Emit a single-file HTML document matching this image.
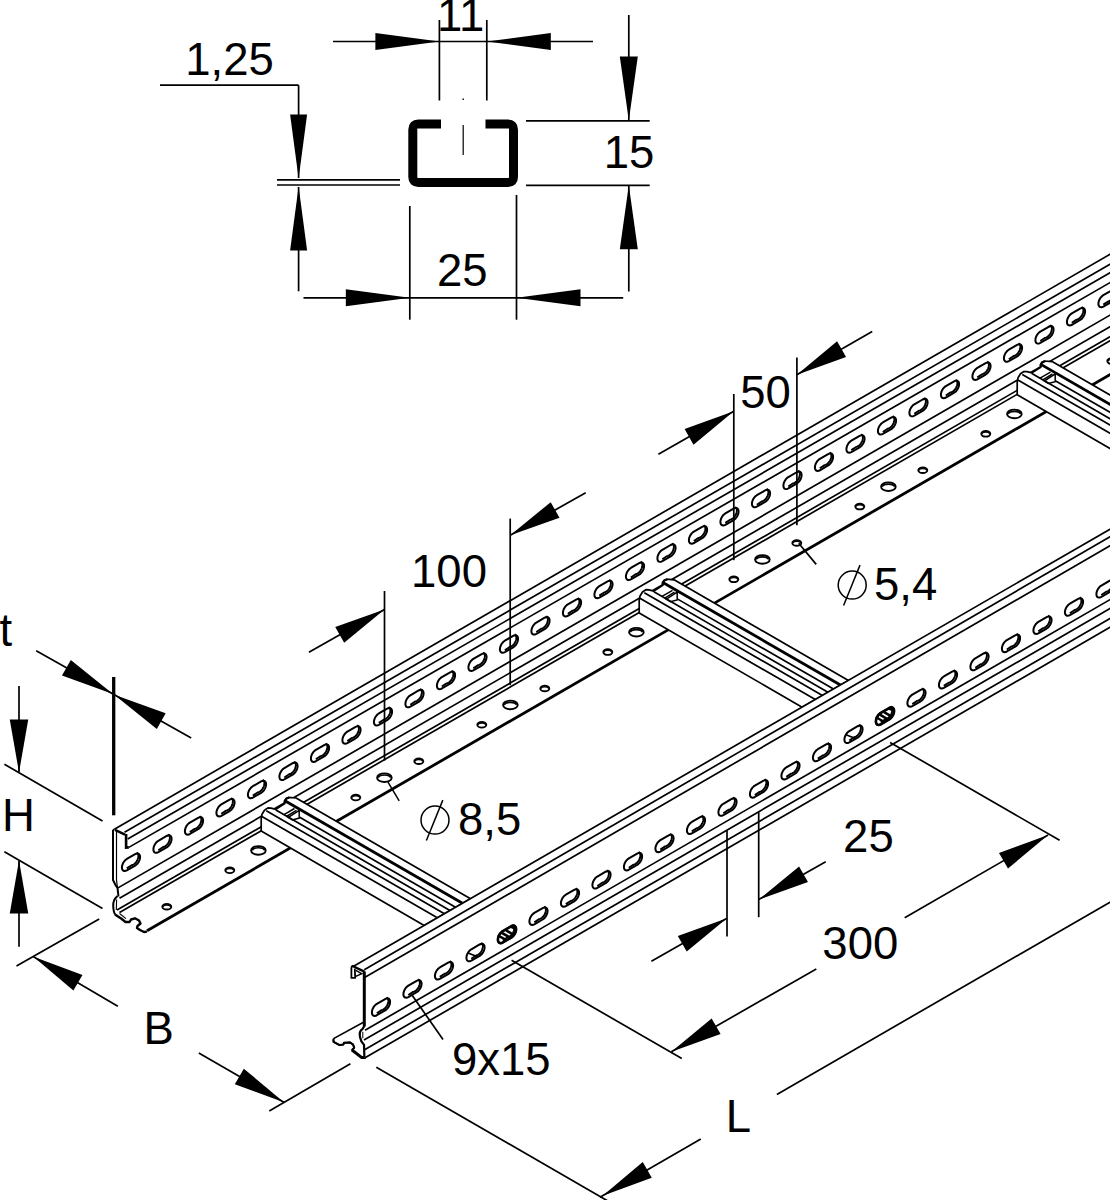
<!DOCTYPE html>
<html><head><meta charset="utf-8"><title>Cable ladder</title>
<style>html,body{margin:0;padding:0;background:#fff}svg{display:block}text{font-family:"Liberation Sans",sans-serif;fill:#000;stroke:none}</style>
</head><body>
<svg width="1110" height="1200" viewBox="0 0 1110 1200" stroke="#000" stroke-linecap="butt" fill="none">
<rect x="0" y="0" width="1110" height="1200" fill="#fff" stroke="none"/>
<line x1="114.4" y1="829.15" x2="1125" y2="245.68" stroke-width="1.7" />
<line x1="124.5" y1="832.33" x2="1125" y2="255.7" stroke-width="1.7" />
<line x1="127.7" y1="838.99" x2="1125" y2="264.09" stroke-width="1.7" />
<line x1="128.8" y1="847.37" x2="1125" y2="274.01" stroke-width="1.7" />
<line x1="118" y1="887.87" x2="1125" y2="306.48" stroke-width="1.7" />
<line x1="119.5" y1="898.21" x2="1125" y2="317.99" stroke-width="1.7" />
<line x1="117" y1="910.05" x2="1125" y2="328.08" stroke-width="1.7" />
<line x1="119.5" y1="912.61" x2="1125" y2="332.08" stroke-width="1.7" />
<line x1="147" y1="930.73" x2="1125" y2="366.08" stroke-width="2.8" />
<path d="M113,830 L113,880 L115.5,885 L117.5,888 L118.5,896.5" fill="none" stroke-width="2.0" />
<path d="M116.5,830.5 L116.5,880 L117.5,888" fill="none" stroke-width="1.2" />
<path d="M113,830.2 L114.4,829.1" fill="none" stroke-width="1.6" />
<path d="M115,829.8 L125,834.6" fill="none" stroke-width="2.4" />
<path d="M126.1,834 L126.1,847.6 L128.8,847.4" fill="none" stroke-width="2.6" />
<path d="M117.5,896 C114,899 113,903 113.2,906 C113.4,910 114,913 115.2,914.5" fill="none" stroke-width="2"/>
<path d="M116.6,899.5 L116.3,910" fill="none" stroke-width="1.1"/>
<path d="M115,914.5 L118,916.5 L121.5,918.8 L125.5,922 L129.5,922 L131,919.5 L135,918.3 L139,920.5 L140.5,923.5 L137.5,926 L137,928 L140,930 L144,932 L147,931.6" fill="none" stroke-width="2.4" stroke-linejoin="round"/>
<path d="M119.5,913.5 L126,918.6" fill="none" stroke-width="1.1" />
<path d="M135.16,865.57 L136.26,864.79 L137.3,863.77 L138.23,862.55 L139.02,861.19 L139.6,859.77 L139.97,858.36 L140.09,857.02 L139.97,855.82 L139.6,854.83 L139.02,854.09 L138.23,853.63 L137.3,853.5 L136.26,853.68 L135.16,854.17 L126.84,858.97 L125.74,859.74 L124.7,860.77 L123.77,861.99 L122.98,863.34 L122.4,864.76 L122.03,866.18 L121.91,867.52 L122.03,868.71 L122.4,869.71 L122.98,870.45 L123.77,870.9 L124.7,871.04 L125.74,870.86 L126.84,870.37 Z" fill="#fff" stroke-width="2.0" stroke-linejoin="round"/>
<path d="M126.81,868.41 L131.64,865.22 L132.6,864.98 L133.59,864.49 L134.58,863.77 L135.52,862.86 L136.38,861.78 L137.12,860.58 L137.71,859.32 L138.12,858.03 L138.35,856.78 L138.38,855.62 L138.21,854.58 L137.84,853.72 L137.3,853.07 L136.6,852.66" fill="none" stroke-width="1.9" stroke-linejoin="round"/>
<path d="M166.66,847.38 L167.76,846.6 L168.8,845.58 L169.73,844.36 L170.52,843.01 L171.1,841.59 L171.47,840.17 L171.59,838.83 L171.47,837.63 L171.1,836.64 L170.52,835.9 L169.73,835.45 L168.8,835.31 L167.76,835.49 L166.66,835.98 L158.34,840.78 L157.24,841.56 L156.2,842.58 L155.27,843.8 L154.48,845.15 L153.9,846.58 L153.53,847.99 L153.41,849.33 L153.53,850.53 L153.9,851.52 L154.48,852.26 L155.27,852.71 L156.2,852.85 L157.24,852.67 L158.34,852.18 Z" fill="#fff" stroke-width="2.0" stroke-linejoin="round"/>
<path d="M158.31,850.22 L163.14,847.03 L164.1,846.79 L165.09,846.3 L166.08,845.59 L167.02,844.67 L167.88,843.59 L168.62,842.4 L169.21,841.13 L169.62,839.84 L169.85,838.59 L169.88,837.43 L169.71,836.4 L169.34,835.54 L168.8,834.89 L168.1,834.47" fill="none" stroke-width="1.9" stroke-linejoin="round"/>
<path d="M198.16,829.19 L199.26,828.42 L200.3,827.39 L201.23,826.17 L202.02,824.82 L202.6,823.4 L202.97,821.98 L203.09,820.64 L202.97,819.45 L202.6,818.45 L202.02,817.71 L201.23,817.26 L200.3,817.12 L199.26,817.3 L198.16,817.79 L189.84,822.59 L188.74,823.37 L187.7,824.4 L186.77,825.61 L185.98,826.97 L185.4,828.39 L185.03,829.8 L184.91,831.14 L185.03,832.34 L185.4,833.33 L185.98,834.08 L186.77,834.53 L187.7,834.67 L188.74,834.49 L189.84,833.99 Z" fill="#fff" stroke-width="2.0" stroke-linejoin="round"/>
<path d="M189.81,832.03 L194.64,828.84 L195.6,828.6 L196.59,828.12 L197.58,827.4 L198.52,826.48 L199.38,825.4 L200.12,824.21 L200.71,822.94 L201.12,821.66 L201.35,820.41 L201.38,819.24 L201.21,818.21 L200.84,817.35 L200.3,816.7 L199.6,816.29" fill="none" stroke-width="1.9" stroke-linejoin="round"/>
<path d="M229.66,811.01 L230.76,810.23 L231.8,809.21 L232.73,807.99 L233.52,806.63 L234.1,805.21 L234.47,803.8 L234.59,802.46 L234.47,801.26 L234.1,800.27 L233.52,799.53 L232.73,799.07 L231.8,798.94 L230.76,799.12 L229.66,799.61 L221.34,804.41 L220.24,805.18 L219.2,806.21 L218.27,807.43 L217.48,808.78 L216.9,810.2 L216.53,811.62 L216.41,812.96 L216.53,814.15 L216.9,815.15 L217.48,815.89 L218.27,816.34 L219.2,816.48 L220.24,816.3 L221.34,815.81 Z" fill="#fff" stroke-width="2.0" stroke-linejoin="round"/>
<path d="M221.31,813.85 L226.14,810.66 L227.1,810.42 L228.09,809.93 L229.08,809.21 L230.02,808.3 L230.88,807.22 L231.62,806.02 L232.21,804.76 L232.62,803.47 L232.85,802.22 L232.88,801.06 L232.71,800.02 L232.34,799.16 L231.8,798.51 L231.1,798.1" fill="none" stroke-width="1.9" stroke-linejoin="round"/>
<path d="M261.16,792.82 L262.26,792.04 L263.3,791.02 L264.23,789.8 L265.02,788.45 L265.6,787.03 L265.97,785.61 L266.09,784.27 L265.97,783.07 L265.6,782.08 L265.02,781.34 L264.23,780.89 L263.3,780.75 L262.26,780.93 L261.16,781.42 L252.84,786.22 L251.74,787 L250.7,788.02 L249.77,789.24 L248.98,790.6 L248.4,792.02 L248.03,793.43 L247.91,794.77 L248.03,795.97 L248.4,796.96 L248.98,797.7 L249.77,798.15 L250.7,798.29 L251.74,798.11 L252.84,797.62 Z" fill="#fff" stroke-width="2.0" stroke-linejoin="round"/>
<path d="M252.81,795.66 L257.64,792.47 L258.6,792.23 L259.59,791.74 L260.58,791.03 L261.52,790.11 L262.38,789.03 L263.12,787.84 L263.71,786.57 L264.12,785.29 L264.35,784.03 L264.38,782.87 L264.21,781.84 L263.84,780.98 L263.3,780.33 L262.6,779.91" fill="none" stroke-width="1.9" stroke-linejoin="round"/>
<path d="M292.66,774.63 L293.76,773.86 L294.8,772.83 L295.73,771.61 L296.52,770.26 L297.1,768.84 L297.47,767.42 L297.59,766.08 L297.47,764.89 L297.1,763.89 L296.52,763.15 L295.73,762.7 L294.8,762.56 L293.76,762.74 L292.66,763.23 L284.34,768.03 L283.24,768.81 L282.2,769.84 L281.27,771.06 L280.48,772.41 L279.9,773.83 L279.53,775.24 L279.41,776.58 L279.53,777.78 L279.9,778.78 L280.48,779.52 L281.27,779.97 L282.2,780.11 L283.24,779.93 L284.34,779.43 Z" fill="#fff" stroke-width="2.0" stroke-linejoin="round"/>
<path d="M284.31,777.47 L289.14,774.28 L290.1,774.04 L291.09,773.56 L292.08,772.84 L293.02,771.92 L293.88,770.85 L294.62,769.65 L295.21,768.38 L295.62,767.1 L295.85,765.85 L295.88,764.68 L295.71,763.65 L295.34,762.79 L294.8,762.14 L294.1,761.73" fill="none" stroke-width="1.9" stroke-linejoin="round"/>
<path d="M324.16,756.45 L325.26,755.67 L326.3,754.65 L327.23,753.43 L328.02,752.07 L328.6,750.65 L328.97,749.24 L329.09,747.9 L328.97,746.7 L328.6,745.71 L328.02,744.97 L327.23,744.51 L326.3,744.38 L325.26,744.56 L324.16,745.05 L315.84,749.85 L314.74,750.63 L313.7,751.65 L312.77,752.87 L311.98,754.22 L311.4,755.64 L311.03,757.06 L310.91,758.4 L311.03,759.59 L311.4,760.59 L311.98,761.33 L312.77,761.78 L313.7,761.92 L314.74,761.74 L315.84,761.25 Z" fill="#fff" stroke-width="2.0" stroke-linejoin="round"/>
<path d="M315.81,759.29 L320.64,756.1 L321.6,755.86 L322.59,755.37 L323.58,754.65 L324.52,753.74 L325.38,752.66 L326.12,751.46 L326.71,750.2 L327.12,748.91 L327.35,747.66 L327.38,746.5 L327.21,745.46 L326.84,744.6 L326.3,743.95 L325.6,743.54" fill="none" stroke-width="1.9" stroke-linejoin="round"/>
<path d="M355.66,738.26 L356.76,737.48 L357.8,736.46 L358.73,735.24 L359.52,733.89 L360.1,732.47 L360.47,731.05 L360.59,729.71 L360.47,728.51 L360.1,727.52 L359.52,726.78 L358.73,726.33 L357.8,726.19 L356.76,726.37 L355.66,726.86 L347.34,731.66 L346.24,732.44 L345.2,733.46 L344.27,734.68 L343.48,736.04 L342.9,737.46 L342.53,738.87 L342.41,740.21 L342.53,741.41 L342.9,742.4 L343.48,743.14 L344.27,743.59 L345.2,743.73 L346.24,743.55 L347.34,743.06 Z" fill="#fff" stroke-width="2.0" stroke-linejoin="round"/>
<path d="M347.31,741.1 L352.14,737.91 L353.1,737.67 L354.09,737.18 L355.08,736.47 L356.02,735.55 L356.88,734.47 L357.62,733.28 L358.21,732.01 L358.62,730.73 L358.85,729.48 L358.88,728.31 L358.71,727.28 L358.34,726.42 L357.8,725.77 L357.1,725.35" fill="none" stroke-width="1.9" stroke-linejoin="round"/>
<path d="M387.16,720.07 L388.26,719.3 L389.3,718.27 L390.23,717.05 L391.02,715.7 L391.6,714.28 L391.97,712.86 L392.09,711.52 L391.97,710.33 L391.6,709.33 L391.02,708.59 L390.23,708.14 L389.3,708 L388.26,708.18 L387.16,708.67 L378.84,713.47 L377.74,714.25 L376.7,715.28 L375.77,716.5 L374.98,717.85 L374.4,719.27 L374.03,720.69 L373.91,722.02 L374.03,723.22 L374.4,724.22 L374.98,724.96 L375.77,725.41 L376.7,725.55 L377.74,725.37 L378.84,724.87 Z" fill="#fff" stroke-width="2.0" stroke-linejoin="round"/>
<path d="M378.81,722.91 L383.64,719.72 L384.6,719.48 L385.59,719 L386.58,718.28 L387.52,717.36 L388.38,716.29 L389.12,715.09 L389.71,713.82 L390.12,712.54 L390.35,711.29 L390.38,710.12 L390.21,709.09 L389.84,708.23 L389.3,707.58 L388.6,707.17" fill="none" stroke-width="1.9" stroke-linejoin="round"/>
<path d="M418.66,701.89 L419.76,701.11 L420.8,700.09 L421.73,698.87 L422.52,697.51 L423.1,696.09 L423.47,694.68 L423.59,693.34 L423.47,692.14 L423.1,691.15 L422.52,690.41 L421.73,689.96 L420.8,689.82 L419.76,690 L418.66,690.49 L410.34,695.29 L409.24,696.07 L408.2,697.09 L407.27,698.31 L406.48,699.66 L405.9,701.08 L405.53,702.5 L405.41,703.84 L405.53,705.04 L405.9,706.03 L406.48,706.77 L407.27,707.22 L408.2,707.36 L409.24,707.18 L410.34,706.69 Z" fill="#fff" stroke-width="2.0" stroke-linejoin="round"/>
<path d="M410.31,704.73 L415.14,701.54 L416.1,701.3 L417.09,700.81 L418.08,700.09 L419.02,699.18 L419.88,698.1 L420.62,696.9 L421.21,695.64 L421.62,694.35 L421.85,693.1 L421.88,691.94 L421.71,690.9 L421.34,690.04 L420.8,689.39 L420.1,688.98" fill="none" stroke-width="1.9" stroke-linejoin="round"/>
<path d="M450.16,683.7 L451.26,682.92 L452.3,681.9 L453.23,680.68 L454.02,679.33 L454.6,677.91 L454.97,676.49 L455.09,675.15 L454.97,673.95 L454.6,672.96 L454.02,672.22 L453.23,671.77 L452.3,671.63 L451.26,671.81 L450.16,672.3 L441.84,677.1 L440.74,677.88 L439.7,678.9 L438.77,680.12 L437.98,681.48 L437.4,682.9 L437.03,684.31 L436.91,685.65 L437.03,686.85 L437.4,687.84 L437.98,688.58 L438.77,689.04 L439.7,689.17 L440.74,688.99 L441.84,688.5 Z" fill="#fff" stroke-width="2.0" stroke-linejoin="round"/>
<path d="M441.81,686.54 L446.64,683.35 L447.6,683.11 L448.59,682.62 L449.58,681.91 L450.52,680.99 L451.38,679.91 L452.12,678.72 L452.71,677.45 L453.12,676.17 L453.35,674.92 L453.38,673.75 L453.21,672.72 L452.84,671.86 L452.3,671.21 L451.6,670.79" fill="none" stroke-width="1.9" stroke-linejoin="round"/>
<path d="M481.66,665.52 L482.76,664.74 L483.8,663.71 L484.73,662.49 L485.52,661.14 L486.1,659.72 L486.47,658.31 L486.59,656.97 L486.47,655.77 L486.1,654.77 L485.52,654.03 L484.73,653.58 L483.8,653.44 L482.76,653.62 L481.66,654.12 L473.34,658.92 L472.24,659.69 L471.2,660.72 L470.27,661.94 L469.48,663.29 L468.9,664.71 L468.53,666.13 L468.41,667.47 L468.53,668.66 L468.9,669.66 L469.48,670.4 L470.27,670.85 L471.2,670.99 L472.24,670.81 L473.34,670.32 Z" fill="#fff" stroke-width="2.0" stroke-linejoin="round"/>
<path d="M473.31,668.36 L478.14,665.16 L479.1,664.92 L480.09,664.44 L481.08,663.72 L482.02,662.8 L482.88,661.73 L483.62,660.53 L484.21,659.26 L484.62,657.98 L484.85,656.73 L484.88,655.56 L484.71,654.53 L484.34,653.67 L483.8,653.02 L483.1,652.61" fill="none" stroke-width="1.9" stroke-linejoin="round"/>
<path d="M513.16,647.33 L514.26,646.55 L515.3,645.53 L516.23,644.31 L517.02,642.95 L517.6,641.53 L517.97,640.12 L518.09,638.78 L517.97,637.58 L517.6,636.59 L517.02,635.85 L516.23,635.4 L515.3,635.26 L514.26,635.44 L513.16,635.93 L504.84,640.73 L503.74,641.51 L502.7,642.53 L501.77,643.75 L500.98,645.1 L500.4,646.52 L500.03,647.94 L499.91,649.28 L500.03,650.48 L500.4,651.47 L500.98,652.21 L501.77,652.66 L502.7,652.8 L503.74,652.62 L504.84,652.13 Z" fill="#fff" stroke-width="2.0" stroke-linejoin="round"/>
<path d="M504.81,650.17 L509.64,646.98 L510.6,646.74 L511.59,646.25 L512.58,645.53 L513.52,644.62 L514.38,643.54 L515.12,642.34 L515.71,641.08 L516.12,639.79 L516.35,638.54 L516.38,637.38 L516.21,636.34 L515.84,635.48 L515.3,634.83 L514.6,634.42" fill="none" stroke-width="1.9" stroke-linejoin="round"/>
<path d="M544.66,629.14 L545.76,628.37 L546.8,627.34 L547.73,626.12 L548.52,624.77 L549.1,623.35 L549.47,621.93 L549.59,620.59 L549.47,619.4 L549.1,618.4 L548.52,617.66 L547.73,617.21 L546.8,617.07 L545.76,617.25 L544.66,617.74 L536.34,622.54 L535.24,623.32 L534.2,624.34 L533.27,625.56 L532.48,626.92 L531.9,628.34 L531.53,629.75 L531.41,631.09 L531.53,632.29 L531.9,633.28 L532.48,634.02 L533.27,634.48 L534.2,634.61 L535.24,634.43 L536.34,633.94 Z" fill="#fff" stroke-width="2.0" stroke-linejoin="round"/>
<path d="M536.31,631.98 L541.14,628.79 L542.1,628.55 L543.09,628.06 L544.08,627.35 L545.02,626.43 L545.88,625.35 L546.62,624.16 L547.21,622.89 L547.62,621.61 L547.85,620.36 L547.88,619.19 L547.71,618.16 L547.34,617.3 L546.8,616.65 L546.1,616.23" fill="none" stroke-width="1.9" stroke-linejoin="round"/>
<path d="M576.16,610.96 L577.26,610.18 L578.3,609.15 L579.23,607.94 L580.02,606.58 L580.6,605.16 L580.97,603.75 L581.09,602.41 L580.97,601.21 L580.6,600.21 L580.02,599.47 L579.23,599.02 L578.3,598.88 L577.26,599.06 L576.16,599.56 L567.84,604.36 L566.74,605.13 L565.7,606.16 L564.77,607.38 L563.98,608.73 L563.4,610.15 L563.03,611.57 L562.91,612.91 L563.03,614.1 L563.4,615.1 L563.98,615.84 L564.77,616.29 L565.7,616.43 L566.74,616.25 L567.84,615.76 Z" fill="#fff" stroke-width="2.0" stroke-linejoin="round"/>
<path d="M567.81,613.8 L572.64,610.6 L573.6,610.37 L574.59,609.88 L575.58,609.16 L576.52,608.24 L577.38,607.17 L578.12,605.97 L578.71,604.7 L579.12,603.42 L579.35,602.17 L579.38,601 L579.21,599.97 L578.84,599.11 L578.3,598.46 L577.6,598.05" fill="none" stroke-width="1.9" stroke-linejoin="round"/>
<path d="M607.66,592.77 L608.76,591.99 L609.8,590.97 L610.73,589.75 L611.52,588.39 L612.1,586.97 L612.47,585.56 L612.59,584.22 L612.47,583.02 L612.1,582.03 L611.52,581.29 L610.73,580.84 L609.8,580.7 L608.76,580.88 L607.66,581.37 L599.34,586.17 L598.24,586.95 L597.2,587.97 L596.27,589.19 L595.48,590.54 L594.9,591.96 L594.53,593.38 L594.41,594.72 L594.53,595.92 L594.9,596.91 L595.48,597.65 L596.27,598.1 L597.2,598.24 L598.24,598.06 L599.34,597.57 Z" fill="#fff" stroke-width="2.0" stroke-linejoin="round"/>
<path d="M599.31,595.61 L604.14,592.42 L605.1,592.18 L606.09,591.69 L607.08,590.97 L608.02,590.06 L608.88,588.98 L609.62,587.78 L610.21,586.52 L610.62,585.23 L610.85,583.98 L610.88,582.82 L610.71,581.78 L610.34,580.93 L609.8,580.28 L609.1,579.86" fill="none" stroke-width="1.9" stroke-linejoin="round"/>
<path d="M639.16,574.58 L640.26,573.81 L641.3,572.78 L642.23,571.56 L643.02,570.21 L643.6,568.79 L643.97,567.37 L644.09,566.03 L643.97,564.84 L643.6,563.84 L643.02,563.1 L642.23,562.65 L641.3,562.51 L640.26,562.69 L639.16,563.18 L630.84,567.98 L629.74,568.76 L628.7,569.78 L627.77,571 L626.98,572.36 L626.4,573.78 L626.03,575.19 L625.91,576.53 L626.03,577.73 L626.4,578.72 L626.98,579.46 L627.77,579.92 L628.7,580.05 L629.74,579.87 L630.84,579.38 Z" fill="#fff" stroke-width="2.0" stroke-linejoin="round"/>
<path d="M630.81,577.42 L635.64,574.23 L636.6,573.99 L637.59,573.5 L638.58,572.79 L639.52,571.87 L640.38,570.79 L641.12,569.6 L641.71,568.33 L642.12,567.05 L642.35,565.8 L642.38,564.63 L642.21,563.6 L641.84,562.74 L641.3,562.09 L640.6,561.67" fill="none" stroke-width="1.9" stroke-linejoin="round"/>
<path d="M670.66,556.4 L671.76,555.62 L672.8,554.6 L673.73,553.38 L674.52,552.02 L675.1,550.6 L675.47,549.19 L675.59,547.85 L675.47,546.65 L675.1,545.66 L674.52,544.91 L673.73,544.46 L672.8,544.32 L671.76,544.5 L670.66,545 L662.34,549.8 L661.24,550.57 L660.2,551.6 L659.27,552.82 L658.48,554.17 L657.9,555.59 L657.53,557.01 L657.41,558.35 L657.53,559.54 L657.9,560.54 L658.48,561.28 L659.27,561.73 L660.2,561.87 L661.24,561.69 L662.34,561.2 Z" fill="#fff" stroke-width="2.0" stroke-linejoin="round"/>
<path d="M662.31,559.24 L667.14,556.05 L668.1,555.81 L669.09,555.32 L670.08,554.6 L671.02,553.69 L671.88,552.61 L672.62,551.41 L673.21,550.14 L673.62,548.86 L673.85,547.61 L673.88,546.44 L673.71,545.41 L673.34,544.55 L672.8,543.9 L672.1,543.49" fill="none" stroke-width="1.9" stroke-linejoin="round"/>
<path d="M702.16,538.21 L703.26,537.43 L704.3,536.41 L705.23,535.19 L706.02,533.84 L706.6,532.42 L706.97,531 L707.09,529.66 L706.97,528.46 L706.6,527.47 L706.02,526.73 L705.23,526.28 L704.3,526.14 L703.26,526.32 L702.16,526.81 L693.84,531.61 L692.74,532.39 L691.7,533.41 L690.77,534.63 L689.98,535.98 L689.4,537.4 L689.03,538.82 L688.91,540.16 L689.03,541.36 L689.4,542.35 L689.98,543.09 L690.77,543.54 L691.7,543.68 L692.74,543.5 L693.84,543.01 Z" fill="#fff" stroke-width="2.0" stroke-linejoin="round"/>
<path d="M693.81,541.05 L698.64,537.86 L699.6,537.62 L700.59,537.13 L701.58,536.41 L702.52,535.5 L703.38,534.42 L704.12,533.22 L704.71,531.96 L705.12,530.67 L705.35,529.42 L705.38,528.26 L705.21,527.22 L704.84,526.37 L704.3,525.72 L703.6,525.3" fill="none" stroke-width="1.9" stroke-linejoin="round"/>
<path d="M733.66,520.02 L734.76,519.25 L735.8,518.22 L736.73,517 L737.52,515.65 L738.1,514.23 L738.47,512.81 L738.59,511.47 L738.47,510.28 L738.1,509.28 L737.52,508.54 L736.73,508.09 L735.8,507.95 L734.76,508.13 L733.66,508.62 L725.34,513.42 L724.24,514.2 L723.2,515.22 L722.27,516.44 L721.48,517.8 L720.9,519.22 L720.53,520.63 L720.41,521.97 L720.53,523.17 L720.9,524.16 L721.48,524.91 L722.27,525.36 L723.2,525.5 L724.24,525.31 L725.34,524.82 Z" fill="#fff" stroke-width="2.0" stroke-linejoin="round"/>
<path d="M725.31,522.86 L730.14,519.67 L731.1,519.43 L732.09,518.94 L733.08,518.23 L734.02,517.31 L734.88,516.23 L735.62,515.04 L736.21,513.77 L736.62,512.49 L736.85,511.24 L736.88,510.07 L736.71,509.04 L736.34,508.18 L735.8,507.53 L735.1,507.11" fill="none" stroke-width="1.9" stroke-linejoin="round"/>
<path d="M765.16,501.84 L766.26,501.06 L767.3,500.04 L768.23,498.82 L769.02,497.46 L769.6,496.04 L769.97,494.63 L770.09,493.29 L769.97,492.09 L769.6,491.1 L769.02,490.35 L768.23,489.9 L767.3,489.76 L766.26,489.95 L765.16,490.44 L756.84,495.24 L755.74,496.01 L754.7,497.04 L753.77,498.26 L752.98,499.61 L752.4,501.03 L752.03,502.45 L751.91,503.79 L752.03,504.98 L752.4,505.98 L752.98,506.72 L753.77,507.17 L754.7,507.31 L755.74,507.13 L756.84,506.64 Z" fill="#fff" stroke-width="2.0" stroke-linejoin="round"/>
<path d="M756.81,504.68 L761.64,501.49 L762.6,501.25 L763.59,500.76 L764.58,500.04 L765.52,499.13 L766.38,498.05 L767.12,496.85 L767.71,495.59 L768.12,494.3 L768.35,493.05 L768.38,491.89 L768.21,490.85 L767.84,489.99 L767.3,489.34 L766.6,488.93" fill="none" stroke-width="1.9" stroke-linejoin="round"/>
<path d="M796.66,483.65 L797.76,482.87 L798.8,481.85 L799.73,480.63 L800.52,479.28 L801.1,477.86 L801.47,476.44 L801.59,475.1 L801.47,473.9 L801.1,472.91 L800.52,472.17 L799.73,471.72 L798.8,471.58 L797.76,471.76 L796.66,472.25 L788.34,477.05 L787.24,477.83 L786.2,478.85 L785.27,480.07 L784.48,481.42 L783.9,482.84 L783.53,484.26 L783.41,485.6 L783.53,486.8 L783.9,487.79 L784.48,488.53 L785.27,488.98 L786.2,489.12 L787.24,488.94 L788.34,488.45 Z" fill="#fff" stroke-width="2.0" stroke-linejoin="round"/>
<path d="M788.31,486.49 L793.14,483.3 L794.1,483.06 L795.09,482.57 L796.08,481.85 L797.02,480.94 L797.88,479.86 L798.62,478.66 L799.21,477.4 L799.62,476.11 L799.85,474.86 L799.88,473.7 L799.71,472.67 L799.34,471.81 L798.8,471.16 L798.1,470.74" fill="none" stroke-width="1.9" stroke-linejoin="round"/>
<path d="M828.16,465.46 L829.26,464.69 L830.3,463.66 L831.23,462.44 L832.02,461.09 L832.6,459.67 L832.97,458.25 L833.09,456.91 L832.97,455.72 L832.6,454.72 L832.02,453.98 L831.23,453.53 L830.3,453.39 L829.26,453.57 L828.16,454.06 L819.84,458.86 L818.74,459.64 L817.7,460.66 L816.77,461.88 L815.98,463.24 L815.4,464.66 L815.03,466.07 L814.91,467.41 L815.03,468.61 L815.4,469.6 L815.98,470.35 L816.77,470.8 L817.7,470.94 L818.74,470.75 L819.84,470.26 Z" fill="#fff" stroke-width="2.0" stroke-linejoin="round"/>
<path d="M819.81,468.3 L824.64,465.11 L825.6,464.87 L826.59,464.38 L827.58,463.67 L828.52,462.75 L829.38,461.67 L830.12,460.48 L830.71,459.21 L831.12,457.93 L831.35,456.68 L831.38,455.51 L831.21,454.48 L830.84,453.62 L830.3,452.97 L829.6,452.56" fill="none" stroke-width="1.9" stroke-linejoin="round"/>
<path d="M859.66,447.28 L860.76,446.5 L861.8,445.48 L862.73,444.26 L863.52,442.9 L864.1,441.48 L864.47,440.07 L864.59,438.73 L864.47,437.53 L864.1,436.54 L863.52,435.79 L862.73,435.34 L861.8,435.2 L860.76,435.39 L859.66,435.88 L851.34,440.68 L850.24,441.45 L849.2,442.48 L848.27,443.7 L847.48,445.05 L846.9,446.47 L846.53,447.89 L846.41,449.23 L846.53,450.42 L846.9,451.42 L847.48,452.16 L848.27,452.61 L849.2,452.75 L850.24,452.57 L851.34,452.08 Z" fill="#fff" stroke-width="2.0" stroke-linejoin="round"/>
<path d="M851.31,450.12 L856.14,446.93 L857.1,446.69 L858.09,446.2 L859.08,445.48 L860.02,444.57 L860.88,443.49 L861.62,442.29 L862.21,441.03 L862.62,439.74 L862.85,438.49 L862.88,437.33 L862.71,436.29 L862.34,435.43 L861.8,434.78 L861.1,434.37" fill="none" stroke-width="1.9" stroke-linejoin="round"/>
<path d="M891.16,429.09 L892.26,428.31 L893.3,427.29 L894.23,426.07 L895.02,424.72 L895.6,423.3 L895.97,421.88 L896.09,420.54 L895.97,419.34 L895.6,418.35 L895.02,417.61 L894.23,417.16 L893.3,417.02 L892.26,417.2 L891.16,417.69 L882.84,422.49 L881.74,423.27 L880.7,424.29 L879.77,425.51 L878.98,426.86 L878.4,428.29 L878.03,429.7 L877.91,431.04 L878.03,432.24 L878.4,433.23 L878.98,433.97 L879.77,434.42 L880.7,434.56 L881.74,434.38 L882.84,433.89 Z" fill="#fff" stroke-width="2.0" stroke-linejoin="round"/>
<path d="M882.81,431.93 L887.64,428.74 L888.6,428.5 L889.59,428.01 L890.58,427.3 L891.52,426.38 L892.38,425.3 L893.12,424.11 L893.71,422.84 L894.12,421.55 L894.35,420.3 L894.38,419.14 L894.21,418.11 L893.84,417.25 L893.3,416.6 L892.6,416.18" fill="none" stroke-width="1.9" stroke-linejoin="round"/>
<path d="M922.66,410.9 L923.76,410.13 L924.8,409.1 L925.73,407.88 L926.52,406.53 L927.1,405.11 L927.47,403.69 L927.59,402.35 L927.47,401.16 L927.1,400.16 L926.52,399.42 L925.73,398.97 L924.8,398.83 L923.76,399.01 L922.66,399.5 L914.34,404.3 L913.24,405.08 L912.2,406.11 L911.27,407.32 L910.48,408.68 L909.9,410.1 L909.53,411.51 L909.41,412.85 L909.53,414.05 L909.9,415.04 L910.48,415.79 L911.27,416.24 L912.2,416.38 L913.24,416.2 L914.34,415.7 Z" fill="#fff" stroke-width="2.0" stroke-linejoin="round"/>
<path d="M914.31,413.74 L919.14,410.55 L920.1,410.31 L921.09,409.83 L922.08,409.11 L923.02,408.19 L923.88,407.11 L924.62,405.92 L925.21,404.65 L925.62,403.37 L925.85,402.12 L925.88,400.95 L925.71,399.92 L925.34,399.06 L924.8,398.41 L924.1,398" fill="none" stroke-width="1.9" stroke-linejoin="round"/>
<path d="M954.16,392.72 L955.26,391.94 L956.3,390.92 L957.23,389.7 L958.02,388.34 L958.6,386.92 L958.97,385.51 L959.09,384.17 L958.97,382.97 L958.6,381.98 L958.02,381.24 L957.23,380.78 L956.3,380.65 L955.26,380.83 L954.16,381.32 L945.84,386.12 L944.74,386.89 L943.7,387.92 L942.77,389.14 L941.98,390.49 L941.4,391.91 L941.03,393.33 L940.91,394.67 L941.03,395.86 L941.4,396.86 L941.98,397.6 L942.77,398.05 L943.7,398.19 L944.74,398.01 L945.84,397.52 Z" fill="#fff" stroke-width="2.0" stroke-linejoin="round"/>
<path d="M945.81,395.56 L950.64,392.37 L951.6,392.13 L952.59,391.64 L953.58,390.92 L954.52,390.01 L955.38,388.93 L956.12,387.73 L956.71,386.47 L957.12,385.18 L957.35,383.93 L957.38,382.77 L957.21,381.73 L956.84,380.87 L956.3,380.22 L955.6,379.81" fill="none" stroke-width="1.9" stroke-linejoin="round"/>
<path d="M985.66,374.53 L986.76,373.75 L987.8,372.73 L988.73,371.51 L989.52,370.16 L990.1,368.74 L990.47,367.32 L990.59,365.98 L990.47,364.78 L990.1,363.79 L989.52,363.05 L988.73,362.6 L987.8,362.46 L986.76,362.64 L985.66,363.13 L977.34,367.93 L976.24,368.71 L975.2,369.73 L974.27,370.95 L973.48,372.31 L972.9,373.73 L972.53,375.14 L972.41,376.48 L972.53,377.68 L972.9,378.67 L973.48,379.41 L974.27,379.86 L975.2,380 L976.24,379.82 L977.34,379.33 Z" fill="#fff" stroke-width="2.0" stroke-linejoin="round"/>
<path d="M977.31,377.37 L982.14,374.18 L983.1,373.94 L984.09,373.45 L985.08,372.74 L986.02,371.82 L986.88,370.74 L987.62,369.55 L988.21,368.28 L988.62,367 L988.85,365.74 L988.88,364.58 L988.71,363.55 L988.34,362.69 L987.8,362.04 L987.1,361.62" fill="none" stroke-width="1.9" stroke-linejoin="round"/>
<path d="M1017.16,356.34 L1018.26,355.57 L1019.3,354.54 L1020.23,353.32 L1021.02,351.97 L1021.6,350.55 L1021.97,349.13 L1022.09,347.79 L1021.97,346.6 L1021.6,345.6 L1021.02,344.86 L1020.23,344.41 L1019.3,344.27 L1018.26,344.45 L1017.16,344.94 L1008.84,349.74 L1007.74,350.52 L1006.7,351.55 L1005.77,352.76 L1004.98,354.12 L1004.4,355.54 L1004.03,356.95 L1003.91,358.29 L1004.03,359.49 L1004.4,360.49 L1004.98,361.23 L1005.77,361.68 L1006.7,361.82 L1007.74,361.64 L1008.84,361.14 Z" fill="#fff" stroke-width="2.0" stroke-linejoin="round"/>
<path d="M1008.81,359.18 L1013.64,355.99 L1014.6,355.75 L1015.59,355.27 L1016.58,354.55 L1017.52,353.63 L1018.38,352.56 L1019.12,351.36 L1019.71,350.09 L1020.12,348.81 L1020.35,347.56 L1020.38,346.39 L1020.21,345.36 L1019.84,344.5 L1019.3,343.85 L1018.6,343.44" fill="none" stroke-width="1.9" stroke-linejoin="round"/>
<path d="M1048.66,338.16 L1049.76,337.38 L1050.8,336.36 L1051.73,335.14 L1052.52,333.78 L1053.1,332.36 L1053.47,330.95 L1053.59,329.61 L1053.47,328.41 L1053.1,327.42 L1052.52,326.68 L1051.73,326.22 L1050.8,326.09 L1049.76,326.27 L1048.66,326.76 L1040.34,331.56 L1039.24,332.34 L1038.2,333.36 L1037.27,334.58 L1036.48,335.93 L1035.9,337.35 L1035.53,338.77 L1035.41,340.11 L1035.53,341.3 L1035.9,342.3 L1036.48,343.04 L1037.27,343.49 L1038.2,343.63 L1039.24,343.45 L1040.34,342.96 Z" fill="#fff" stroke-width="2.0" stroke-linejoin="round"/>
<path d="M1040.31,341 L1045.14,337.81 L1046.1,337.57 L1047.09,337.08 L1048.08,336.36 L1049.02,335.45 L1049.88,334.37 L1050.62,333.17 L1051.21,331.91 L1051.62,330.62 L1051.85,329.37 L1051.88,328.21 L1051.71,327.17 L1051.34,326.31 L1050.8,325.66 L1050.1,325.25" fill="none" stroke-width="1.9" stroke-linejoin="round"/>
<path d="M1080.16,319.97 L1081.26,319.19 L1082.3,318.17 L1083.23,316.95 L1084.02,315.6 L1084.6,314.18 L1084.97,312.76 L1085.09,311.42 L1084.97,310.22 L1084.6,309.23 L1084.02,308.49 L1083.23,308.04 L1082.3,307.9 L1081.26,308.08 L1080.16,308.57 L1071.84,313.37 L1070.74,314.15 L1069.7,315.17 L1068.77,316.39 L1067.98,317.75 L1067.4,319.17 L1067.03,320.58 L1066.91,321.92 L1067.03,323.12 L1067.4,324.11 L1067.98,324.85 L1068.77,325.3 L1069.7,325.44 L1070.74,325.26 L1071.84,324.77 Z" fill="#fff" stroke-width="2.0" stroke-linejoin="round"/>
<path d="M1071.81,322.81 L1076.64,319.62 L1077.6,319.38 L1078.59,318.89 L1079.58,318.18 L1080.52,317.26 L1081.38,316.18 L1082.12,314.99 L1082.71,313.72 L1083.12,312.44 L1083.35,311.19 L1083.38,310.02 L1083.21,308.99 L1082.84,308.13 L1082.3,307.48 L1081.6,307.06" fill="none" stroke-width="1.9" stroke-linejoin="round"/>
<path d="M1111.66,301.78 L1112.76,301.01 L1113.8,299.98 L1114.73,298.76 L1115.52,297.41 L1116.1,295.99 L1116.47,294.57 L1116.59,293.23 L1116.47,292.04 L1116.1,291.04 L1115.52,290.3 L1114.73,289.85 L1113.8,289.71 L1112.76,289.89 L1111.66,290.38 L1103.34,295.18 L1102.24,295.96 L1101.2,296.99 L1100.27,298.21 L1099.48,299.56 L1098.9,300.98 L1098.53,302.4 L1098.41,303.73 L1098.53,304.93 L1098.9,305.93 L1099.48,306.67 L1100.27,307.12 L1101.2,307.26 L1102.24,307.08 L1103.34,306.58 Z" fill="#fff" stroke-width="2.0" stroke-linejoin="round"/>
<path d="M1103.31,304.62 L1108.14,301.43 L1109.1,301.19 L1110.09,300.71 L1111.08,299.99 L1112.02,299.07 L1112.88,298 L1113.62,296.8 L1114.21,295.53 L1114.62,294.25 L1114.85,293 L1114.88,291.83 L1114.71,290.8 L1114.34,289.94 L1113.8,289.29 L1113.1,288.88" fill="none" stroke-width="1.9" stroke-linejoin="round"/>
<ellipse cx="166.8" cy="906.7" rx="4.5" ry="2.8" fill="#fff" stroke-width="1.9"/>
<path d="M162.93,906.56 A4.05,2.24 0 0 1 170.67,906.56" fill="none" stroke-width="1.3"/>
<ellipse cx="229.8" cy="870.32" rx="4.5" ry="2.8" fill="#fff" stroke-width="1.9"/>
<path d="M225.93,870.18 A4.05,2.24 0 0 1 233.67,870.18" fill="none" stroke-width="1.3"/>
<ellipse cx="292.8" cy="833.95" rx="4.5" ry="2.8" fill="#fff" stroke-width="1.9"/>
<path d="M288.93,833.81 A4.05,2.24 0 0 1 296.67,833.81" fill="none" stroke-width="1.3"/>
<ellipse cx="355.8" cy="797.58" rx="4.5" ry="2.8" fill="#fff" stroke-width="1.9"/>
<path d="M351.93,797.44 A4.05,2.24 0 0 1 359.67,797.44" fill="none" stroke-width="1.3"/>
<ellipse cx="418.8" cy="761.21" rx="4.5" ry="2.8" fill="#fff" stroke-width="1.9"/>
<path d="M414.93,761.07 A4.05,2.24 0 0 1 422.67,761.07" fill="none" stroke-width="1.3"/>
<ellipse cx="481.8" cy="724.83" rx="4.5" ry="2.8" fill="#fff" stroke-width="1.9"/>
<path d="M477.93,724.69 A4.05,2.24 0 0 1 485.67,724.69" fill="none" stroke-width="1.3"/>
<ellipse cx="544.8" cy="688.46" rx="4.5" ry="2.8" fill="#fff" stroke-width="1.9"/>
<path d="M540.93,688.32 A4.05,2.24 0 0 1 548.67,688.32" fill="none" stroke-width="1.3"/>
<ellipse cx="607.8" cy="652.09" rx="4.5" ry="2.8" fill="#fff" stroke-width="1.9"/>
<path d="M603.93,651.95 A4.05,2.24 0 0 1 611.67,651.95" fill="none" stroke-width="1.3"/>
<ellipse cx="670.8" cy="615.71" rx="4.5" ry="2.8" fill="#fff" stroke-width="1.9"/>
<path d="M666.93,615.57 A4.05,2.24 0 0 1 674.67,615.57" fill="none" stroke-width="1.3"/>
<ellipse cx="733.8" cy="579.34" rx="4.5" ry="2.8" fill="#fff" stroke-width="1.9"/>
<path d="M729.93,579.2 A4.05,2.24 0 0 1 737.67,579.2" fill="none" stroke-width="1.3"/>
<ellipse cx="796.8" cy="542.97" rx="4.5" ry="2.8" fill="#fff" stroke-width="1.9"/>
<path d="M792.93,542.83 A4.05,2.24 0 0 1 800.67,542.83" fill="none" stroke-width="1.3"/>
<ellipse cx="859.8" cy="506.59" rx="4.5" ry="2.8" fill="#fff" stroke-width="1.9"/>
<path d="M855.93,506.45 A4.05,2.24 0 0 1 863.67,506.45" fill="none" stroke-width="1.3"/>
<ellipse cx="922.8" cy="470.22" rx="4.5" ry="2.8" fill="#fff" stroke-width="1.9"/>
<path d="M918.93,470.08 A4.05,2.24 0 0 1 926.67,470.08" fill="none" stroke-width="1.3"/>
<ellipse cx="985.8" cy="433.85" rx="4.5" ry="2.8" fill="#fff" stroke-width="1.9"/>
<path d="M981.93,433.71 A4.05,2.24 0 0 1 989.67,433.71" fill="none" stroke-width="1.3"/>
<ellipse cx="1048.8" cy="397.48" rx="4.5" ry="2.8" fill="#fff" stroke-width="1.9"/>
<path d="M1044.93,397.34 A4.05,2.24 0 0 1 1052.67,397.34" fill="none" stroke-width="1.3"/>
<ellipse cx="1111.8" cy="361.1" rx="4.5" ry="2.8" fill="#fff" stroke-width="1.9"/>
<path d="M1107.93,360.96 A4.05,2.24 0 0 1 1115.67,360.96" fill="none" stroke-width="1.3"/>
<ellipse cx="258.4" cy="850.41" rx="7.3" ry="4.3" fill="#fff" stroke-width="1.9"/>
<path d="M252.12,850.2 A6.57,3.44 0 0 1 264.68,850.2" fill="none" stroke-width="1.7"/>
<ellipse cx="384.4" cy="777.67" rx="7.3" ry="4.3" fill="#fff" stroke-width="1.9"/>
<path d="M378.12,777.45 A6.57,3.44 0 0 1 390.68,777.45" fill="none" stroke-width="1.7"/>
<ellipse cx="510.4" cy="704.92" rx="7.3" ry="4.3" fill="#fff" stroke-width="1.9"/>
<path d="M504.12,704.71 A6.57,3.44 0 0 1 516.68,704.71" fill="none" stroke-width="1.7"/>
<ellipse cx="636.4" cy="632.17" rx="7.3" ry="4.3" fill="#fff" stroke-width="1.9"/>
<path d="M630.12,631.96 A6.57,3.44 0 0 1 642.68,631.96" fill="none" stroke-width="1.7"/>
<ellipse cx="762.4" cy="559.43" rx="7.3" ry="4.3" fill="#fff" stroke-width="1.9"/>
<path d="M756.12,559.21 A6.57,3.44 0 0 1 768.68,559.21" fill="none" stroke-width="1.7"/>
<ellipse cx="888.4" cy="486.68" rx="7.3" ry="4.3" fill="#fff" stroke-width="1.9"/>
<path d="M882.12,486.47 A6.57,3.44 0 0 1 894.68,486.47" fill="none" stroke-width="1.7"/>
<ellipse cx="1014.4" cy="413.94" rx="7.3" ry="4.3" fill="#fff" stroke-width="1.9"/>
<path d="M1008.12,413.72 A6.57,3.44 0 0 1 1020.68,413.72" fill="none" stroke-width="1.7"/>
<path d="M261.2,831.1 L261.2,818.5 L262,814.2 L264.5,810.2 L267.9,807.9 L271,808.1 L275.9,809.3 L284.8,803.6 L284.6,801.3 L286,798.6 L288.5,797.4 L296.1,798 L470.51,898.65 L424.18,925.4 Z" fill="#fff" stroke-width="1.7" stroke-linejoin="round"/>
<line x1="285.3" y1="801.02" x2="462.46" y2="903.3" stroke-width="2.8" />
<line x1="299.7" y1="817.33" x2="455.53" y2="907.3" stroke-width="1.7" />
<line x1="275.9" y1="809.99" x2="449.99" y2="910.5" stroke-width="1.7" />
<line x1="266.3" y1="810.85" x2="444.44" y2="913.7" stroke-width="1.7" />
<line x1="261.9" y1="816.51" x2="437.34" y2="917.8" stroke-width="1.7" />
<path d="M284.8,803.4 L284.7,801 L286.2,798.8 L289,797.6" fill="none" stroke-width="2.2" />
<line x1="284" y1="814.6" x2="294.5" y2="808.5" stroke-width="1.5" />
<line x1="286.4" y1="816.5" x2="296.5" y2="810.4" stroke-width="1.5" />
<path d="M288.4,817.4 L299.2,810.3 L299.2,818.1 L292.4,819.9 Z" fill="none" stroke-width="1.5" />
<path d="M639.2,612.9 L639.2,600.3 L640,596 L642.5,592 L645.9,589.7 L649,589.9 L653.9,591.1 L662.8,585.4 L662.6,583.1 L664,580.4 L666.5,579.2 L674.1,579.8 L848.48,680.43 L802.15,707.18 Z" fill="#fff" stroke-width="1.7" stroke-linejoin="round"/>
<line x1="663.3" y1="582.82" x2="840.42" y2="685.08" stroke-width="2.8" />
<line x1="677.7" y1="599.13" x2="833.5" y2="689.08" stroke-width="1.7" />
<line x1="653.9" y1="591.79" x2="827.95" y2="692.28" stroke-width="1.7" />
<line x1="644.3" y1="592.65" x2="822.41" y2="695.48" stroke-width="1.7" />
<line x1="639.9" y1="598.31" x2="815.31" y2="699.58" stroke-width="1.7" />
<path d="M662.8,585.2 L662.7,582.8 L664.2,580.6 L667,579.4" fill="none" stroke-width="2.2" />
<line x1="662" y1="596.4" x2="672.5" y2="590.3" stroke-width="1.5" />
<line x1="664.4" y1="598.3" x2="674.5" y2="592.2" stroke-width="1.5" />
<path d="M666.4,599.2 L677.2,592.1 L677.2,599.9 L670.4,601.7 Z" fill="none" stroke-width="1.5" />
<path d="M1017.2,394.7 L1017.2,382.1 L1018,377.8 L1020.5,373.8 L1023.9,371.5 L1027,371.7 L1031.9,372.9 L1040.8,367.2 L1040.6,364.9 L1042,362.2 L1044.5,361 L1052.1,361.6 L1226.45,462.21 L1180.11,488.96 Z" fill="#fff" stroke-width="1.7" stroke-linejoin="round"/>
<line x1="1041.3" y1="364.62" x2="1218.39" y2="466.86" stroke-width="2.8" />
<line x1="1055.7" y1="380.93" x2="1211.46" y2="470.86" stroke-width="1.7" />
<line x1="1031.9" y1="373.59" x2="1205.92" y2="474.06" stroke-width="1.7" />
<line x1="1022.3" y1="374.45" x2="1200.38" y2="477.26" stroke-width="1.7" />
<line x1="1017.9" y1="380.11" x2="1193.28" y2="481.36" stroke-width="1.7" />
<path d="M1040.8,367 L1040.7,364.6 L1042.2,362.4 L1045,361.2" fill="none" stroke-width="2.2" />
<line x1="1040" y1="378.2" x2="1050.5" y2="372.1" stroke-width="1.5" />
<line x1="1042.4" y1="380.1" x2="1052.5" y2="374" stroke-width="1.5" />
<path d="M1044.4,381 L1055.2,373.9 L1055.2,381.7 L1048.4,383.5 Z" fill="none" stroke-width="1.5" />
<path d="M333.4,1039.3 L333.6,1041.9 L339.6,1045.1 L343.4,1044.6 L343.9,1042.7 L349.9,1042.4 L353.1,1044.6 L354.2,1047.8 L352,1050 L361.8,1057.6 L365,1057.6 L365,1022 L363.4,1022.2 L334.5,1038.1 Z" fill="#fff" stroke-width="1.7" />
<path d="M333.4,1039.3 L333.6,1041.9 L339.6,1045.1 L343.4,1044.6 L343.9,1042.7 L349.9,1042.4 L353.1,1044.6 L354.2,1047.8 L352,1050" fill="none" stroke-width="2.0" stroke-linejoin="round"/>
<path d="M352,1050 L361.8,1057.6 L365.5,1057.6" fill="none" stroke-width="3.0" stroke-linejoin="round"/>
<path d="M353.6,965.6 L351.4,967.1 L351.4,977.9 L355.2,977.9 L355.8,976.3 L361.7,973.6 L363.6,974.5 L363.6,1026.7 L361,1030 L359.8,1035.5 L361.8,1041.4 L364,1044.6 L364,1057.6 L366.1,1057.6 L1125,619.08 L1125,520.78 Z" fill="#fff" stroke-width="1.7" stroke="none"/>
<line x1="353.6" y1="966.15" x2="1125" y2="520.58" stroke-width="1.7" />
<line x1="364.3" y1="969.67" x2="1125" y2="528.03" stroke-width="1.7" />
<line x1="364.6" y1="977.5" x2="1125" y2="537.05" stroke-width="1.7" />
<line x1="365" y1="1030.27" x2="1125" y2="590.97" stroke-width="1.7" />
<line x1="364" y1="1040.04" x2="1125" y2="599.87" stroke-width="1.7" />
<line x1="364.6" y1="1049.7" x2="1125" y2="609.87" stroke-width="1.7" />
<line x1="364.6" y1="1058.1" x2="1125" y2="618.67" stroke-width="1.7" />
<path d="M385.16,1010.43 L386.26,1009.65 L387.3,1008.63 L388.23,1007.41 L389.02,1006.06 L389.6,1004.64 L389.97,1003.22 L390.09,1001.88 L389.97,1000.68 L389.6,999.69 L389.02,998.95 L388.23,998.5 L387.3,998.36 L386.26,998.54 L385.16,999.03 L376.84,1003.83 L375.74,1004.61 L374.7,1005.63 L373.77,1006.85 L372.98,1008.2 L372.4,1009.62 L372.03,1011.04 L371.91,1012.38 L372.03,1013.58 L372.4,1014.57 L372.98,1015.31 L373.77,1015.76 L374.7,1015.9 L375.74,1015.72 L376.84,1015.23 Z" fill="#fff" stroke-width="2.0" stroke-linejoin="round"/>
<path d="M376.81,1013.27 L381.64,1010.08 L382.6,1009.84 L383.59,1009.35 L384.58,1008.63 L385.52,1007.72 L386.38,1006.64 L387.12,1005.44 L387.71,1004.18 L388.12,1002.89 L388.35,1001.64 L388.38,1000.48 L388.21,999.44 L387.84,998.59 L387.3,997.94 L386.6,997.52" fill="none" stroke-width="1.9" stroke-linejoin="round"/>
<path d="M416.66,992.24 L417.76,991.47 L418.8,990.44 L419.73,989.22 L420.52,987.87 L421.1,986.45 L421.47,985.03 L421.59,983.69 L421.47,982.5 L421.1,981.5 L420.52,980.76 L419.73,980.31 L418.8,980.17 L417.76,980.35 L416.66,980.84 L408.34,985.64 L407.24,986.42 L406.2,987.44 L405.27,988.66 L404.48,990.02 L403.9,991.44 L403.53,992.85 L403.41,994.19 L403.53,995.39 L403.9,996.38 L404.48,997.13 L405.27,997.58 L406.2,997.72 L407.24,997.53 L408.34,997.04 Z" fill="#fff" stroke-width="2.0" stroke-linejoin="round"/>
<path d="M408.31,995.08 L413.14,991.89 L414.1,991.65 L415.09,991.16 L416.08,990.45 L417.02,989.53 L417.88,988.45 L418.62,987.26 L419.21,985.99 L419.62,984.71 L419.85,983.46 L419.88,982.29 L419.71,981.26 L419.34,980.4 L418.8,979.75 L418.1,979.33" fill="none" stroke-width="1.9" stroke-linejoin="round"/>
<path d="M448.16,974.06 L449.26,973.28 L450.3,972.26 L451.23,971.04 L452.02,969.68 L452.6,968.26 L452.97,966.85 L453.09,965.51 L452.97,964.31 L452.6,963.32 L452.02,962.57 L451.23,962.12 L450.3,961.98 L449.26,962.17 L448.16,962.66 L439.84,967.46 L438.74,968.23 L437.7,969.26 L436.77,970.48 L435.98,971.83 L435.4,973.25 L435.03,974.67 L434.91,976.01 L435.03,977.2 L435.4,978.2 L435.98,978.94 L436.77,979.39 L437.7,979.53 L438.74,979.35 L439.84,978.86 Z" fill="#fff" stroke-width="2.0" stroke-linejoin="round"/>
<path d="M439.81,976.9 L444.64,973.71 L445.6,973.47 L446.59,972.98 L447.58,972.26 L448.52,971.35 L449.38,970.27 L450.12,969.07 L450.71,967.81 L451.12,966.52 L451.35,965.27 L451.38,964.1 L451.21,963.07 L450.84,962.21 L450.3,961.56 L449.6,961.15" fill="none" stroke-width="1.9" stroke-linejoin="round"/>
<path d="M479.66,955.87 L480.76,955.09 L481.8,954.07 L482.73,952.85 L483.52,951.5 L484.1,950.08 L484.47,948.66 L484.59,947.32 L484.47,946.12 L484.1,945.13 L483.52,944.39 L482.73,943.94 L481.8,943.8 L480.76,943.98 L479.66,944.47 L471.34,949.27 L470.24,950.05 L469.2,951.07 L468.27,952.29 L467.48,953.64 L466.9,955.06 L466.53,956.48 L466.41,957.82 L466.53,959.02 L466.9,960.01 L467.48,960.75 L468.27,961.2 L469.2,961.34 L470.24,961.16 L471.34,960.67 Z" fill="#fff" stroke-width="2.0" stroke-linejoin="round"/>
<path d="M471.31,958.71 L476.14,955.52 L477.1,955.28 L478.09,954.79 L479.08,954.07 L480.02,953.16 L480.88,952.08 L481.62,950.88 L482.21,949.62 L482.62,948.33 L482.85,947.08 L482.88,945.92 L482.71,944.89 L482.34,944.03 L481.8,943.38 L481.1,942.96" fill="none" stroke-width="1.9" stroke-linejoin="round"/>
<line x1="468.05" y1="952.97" x2="477.49" y2="956.72" stroke-width="1.7" />
<path d="M511.16,937.68 L512.26,936.91 L513.3,935.88 L514.23,934.66 L515.02,933.31 L515.6,931.89 L515.97,930.47 L516.09,929.13 L515.97,927.94 L515.6,926.94 L515.02,926.2 L514.23,925.75 L513.3,925.61 L512.26,925.79 L511.16,926.28 L502.84,931.08 L501.74,931.86 L500.7,932.88 L499.77,934.1 L498.98,935.46 L498.4,936.88 L498.03,938.29 L497.91,939.63 L498.03,940.83 L498.4,941.82 L498.98,942.57 L499.77,943.02 L500.7,943.16 L501.74,942.97 L502.84,942.48 Z" fill="#fff" stroke-width="2.0" stroke-linejoin="round"/>
<path d="M502.81,940.52 L507.64,937.33 L508.6,937.09 L509.59,936.6 L510.58,935.89 L511.52,934.97 L512.38,933.89 L513.12,932.7 L513.71,931.43 L514.12,930.15 L514.35,928.9 L514.38,927.73 L514.21,926.7 L513.84,925.84 L513.3,925.19 L512.6,924.77" fill="none" stroke-width="1.9" stroke-linejoin="round"/>
<line x1="497.78" y1="935.26" x2="505.83" y2="939.91" stroke-width="2.4" />
<line x1="501.85" y1="932.91" x2="509.9" y2="937.56" stroke-width="2.6" />
<line x1="506.09" y1="930.46" x2="514.14" y2="935.11" stroke-width="2.6" />
<line x1="511.09" y1="926.89" x2="515.64" y2="928.83" stroke-width="2.4" />
<path d="M511.16,937.68 L512.26,936.91 L513.3,935.88 L514.23,934.66 L515.02,933.31 L515.6,931.89 L515.97,930.47 L516.09,929.13 L515.97,927.94 L515.6,926.94 L515.02,926.2 L514.23,925.75 L513.3,925.61 L512.26,925.79 L511.16,926.28 L502.84,931.08 L501.74,931.86 L500.7,932.88 L499.77,934.1 L498.98,935.46 L498.4,936.88 L498.03,938.29 L497.91,939.63 L498.03,940.83 L498.4,941.82 L498.98,942.57 L499.77,943.02 L500.7,943.16 L501.74,942.97 L502.84,942.48 Z" fill="none" stroke-width="2.6" stroke-linejoin="round"/>
<path d="M542.66,919.5 L543.76,918.72 L544.8,917.7 L545.73,916.48 L546.52,915.12 L547.1,913.7 L547.47,912.29 L547.59,910.95 L547.47,909.75 L547.1,908.76 L546.52,908.01 L545.73,907.56 L544.8,907.42 L543.76,907.61 L542.66,908.1 L534.34,912.9 L533.24,913.67 L532.2,914.7 L531.27,915.92 L530.48,917.27 L529.9,918.69 L529.53,920.11 L529.41,921.45 L529.53,922.64 L529.9,923.64 L530.48,924.38 L531.27,924.83 L532.2,924.97 L533.24,924.79 L534.34,924.3 Z" fill="#fff" stroke-width="2.0" stroke-linejoin="round"/>
<path d="M534.31,922.34 L539.14,919.15 L540.1,918.91 L541.09,918.42 L542.08,917.7 L543.02,916.79 L543.88,915.71 L544.62,914.51 L545.21,913.25 L545.62,911.96 L545.85,910.71 L545.88,909.55 L545.71,908.51 L545.34,907.65 L544.8,907 L544.1,906.59" fill="none" stroke-width="1.9" stroke-linejoin="round"/>
<path d="M574.16,901.31 L575.26,900.53 L576.3,899.51 L577.23,898.29 L578.02,896.94 L578.6,895.52 L578.97,894.1 L579.09,892.76 L578.97,891.56 L578.6,890.57 L578.02,889.83 L577.23,889.38 L576.3,889.24 L575.26,889.42 L574.16,889.91 L565.84,894.71 L564.74,895.49 L563.7,896.51 L562.77,897.73 L561.98,899.08 L561.4,900.51 L561.03,901.92 L560.91,903.26 L561.03,904.46 L561.4,905.45 L561.98,906.19 L562.77,906.64 L563.7,906.78 L564.74,906.6 L565.84,906.11 Z" fill="#fff" stroke-width="2.0" stroke-linejoin="round"/>
<path d="M565.81,904.15 L570.64,900.96 L571.6,900.72 L572.59,900.23 L573.58,899.52 L574.52,898.6 L575.38,897.52 L576.12,896.32 L576.71,895.06 L577.12,893.77 L577.35,892.52 L577.38,891.36 L577.21,890.33 L576.84,889.47 L576.3,888.82 L575.6,888.4" fill="none" stroke-width="1.9" stroke-linejoin="round"/>
<path d="M605.66,883.12 L606.76,882.35 L607.8,881.32 L608.73,880.1 L609.52,878.75 L610.1,877.33 L610.47,875.91 L610.59,874.57 L610.47,873.38 L610.1,872.38 L609.52,871.64 L608.73,871.19 L607.8,871.05 L606.76,871.23 L605.66,871.72 L597.34,876.52 L596.24,877.3 L595.2,878.33 L594.27,879.54 L593.48,880.9 L592.9,882.32 L592.53,883.73 L592.41,885.07 L592.53,886.27 L592.9,887.26 L593.48,888.01 L594.27,888.46 L595.2,888.6 L596.24,888.42 L597.34,887.92 Z" fill="#fff" stroke-width="2.0" stroke-linejoin="round"/>
<path d="M597.31,885.96 L602.14,882.77 L603.1,882.53 L604.09,882.05 L605.08,881.33 L606.02,880.41 L606.88,879.33 L607.62,878.14 L608.21,876.87 L608.62,875.59 L608.85,874.34 L608.88,873.17 L608.71,872.14 L608.34,871.28 L607.8,870.63 L607.1,870.22" fill="none" stroke-width="1.9" stroke-linejoin="round"/>
<path d="M637.16,864.94 L638.26,864.16 L639.3,863.14 L640.23,861.92 L641.02,860.56 L641.6,859.14 L641.97,857.73 L642.09,856.39 L641.97,855.19 L641.6,854.2 L641.02,853.46 L640.23,853 L639.3,852.87 L638.26,853.05 L637.16,853.54 L628.84,858.34 L627.74,859.11 L626.7,860.14 L625.77,861.36 L624.98,862.71 L624.4,864.13 L624.03,865.55 L623.91,866.89 L624.03,868.08 L624.4,869.08 L624.98,869.82 L625.77,870.27 L626.7,870.41 L627.74,870.23 L628.84,869.74 Z" fill="#fff" stroke-width="2.0" stroke-linejoin="round"/>
<path d="M628.81,867.78 L633.64,864.59 L634.6,864.35 L635.59,863.86 L636.58,863.14 L637.52,862.23 L638.38,861.15 L639.12,859.95 L639.71,858.69 L640.12,857.4 L640.35,856.15 L640.38,854.99 L640.21,853.95 L639.84,853.09 L639.3,852.44 L638.6,852.03" fill="none" stroke-width="1.9" stroke-linejoin="round"/>
<path d="M668.66,846.75 L669.76,845.97 L670.8,844.95 L671.73,843.73 L672.52,842.38 L673.1,840.96 L673.47,839.54 L673.59,838.2 L673.47,837 L673.1,836.01 L672.52,835.27 L671.73,834.82 L670.8,834.68 L669.76,834.86 L668.66,835.35 L660.34,840.15 L659.24,840.93 L658.2,841.95 L657.27,843.17 L656.48,844.53 L655.9,845.95 L655.53,847.36 L655.41,848.7 L655.53,849.9 L655.9,850.89 L656.48,851.63 L657.27,852.08 L658.2,852.22 L659.24,852.04 L660.34,851.55 Z" fill="#fff" stroke-width="2.0" stroke-linejoin="round"/>
<path d="M660.31,849.59 L665.14,846.4 L666.1,846.16 L667.09,845.67 L668.08,844.96 L669.02,844.04 L669.88,842.96 L670.62,841.77 L671.21,840.5 L671.62,839.22 L671.85,837.96 L671.88,836.8 L671.71,835.77 L671.34,834.91 L670.8,834.26 L670.1,833.84" fill="none" stroke-width="1.9" stroke-linejoin="round"/>
<path d="M700.16,828.56 L701.26,827.79 L702.3,826.76 L703.23,825.54 L704.02,824.19 L704.6,822.77 L704.97,821.35 L705.09,820.01 L704.97,818.82 L704.6,817.82 L704.02,817.08 L703.23,816.63 L702.3,816.49 L701.26,816.67 L700.16,817.16 L691.84,821.96 L690.74,822.74 L689.7,823.77 L688.77,824.98 L687.98,826.34 L687.4,827.76 L687.03,829.17 L686.91,830.51 L687.03,831.71 L687.4,832.71 L687.98,833.45 L688.77,833.9 L689.7,834.04 L690.74,833.86 L691.84,833.36 Z" fill="#fff" stroke-width="2.0" stroke-linejoin="round"/>
<path d="M691.81,831.4 L696.64,828.21 L697.6,827.97 L698.59,827.49 L699.58,826.77 L700.52,825.85 L701.38,824.78 L702.12,823.58 L702.71,822.31 L703.12,821.03 L703.35,819.78 L703.38,818.61 L703.21,817.58 L702.84,816.72 L702.3,816.07 L701.6,815.66" fill="none" stroke-width="1.9" stroke-linejoin="round"/>
<path d="M731.66,810.38 L732.76,809.6 L733.8,808.58 L734.73,807.36 L735.52,806 L736.1,804.58 L736.47,803.17 L736.59,801.83 L736.47,800.63 L736.1,799.64 L735.52,798.9 L734.73,798.44 L733.8,798.31 L732.76,798.49 L731.66,798.98 L723.34,803.78 L722.24,804.55 L721.2,805.58 L720.27,806.8 L719.48,808.15 L718.9,809.57 L718.53,810.99 L718.41,812.33 L718.53,813.52 L718.9,814.52 L719.48,815.26 L720.27,815.71 L721.2,815.85 L722.24,815.67 L723.34,815.18 Z" fill="#fff" stroke-width="2.0" stroke-linejoin="round"/>
<path d="M723.31,813.22 L728.14,810.03 L729.1,809.79 L730.09,809.3 L731.08,808.58 L732.02,807.67 L732.88,806.59 L733.62,805.39 L734.21,804.13 L734.62,802.84 L734.85,801.59 L734.88,800.43 L734.71,799.39 L734.34,798.53 L733.8,797.88 L733.1,797.47" fill="none" stroke-width="1.9" stroke-linejoin="round"/>
<path d="M763.16,792.19 L764.26,791.41 L765.3,790.39 L766.23,789.17 L767.02,787.82 L767.6,786.4 L767.97,784.98 L768.09,783.64 L767.97,782.44 L767.6,781.45 L767.02,780.71 L766.23,780.26 L765.3,780.12 L764.26,780.3 L763.16,780.79 L754.84,785.59 L753.74,786.37 L752.7,787.39 L751.77,788.61 L750.98,789.97 L750.4,791.39 L750.03,792.8 L749.91,794.14 L750.03,795.34 L750.4,796.33 L750.98,797.07 L751.77,797.52 L752.7,797.66 L753.74,797.48 L754.84,796.99 Z" fill="#fff" stroke-width="2.0" stroke-linejoin="round"/>
<path d="M754.81,795.03 L759.64,791.84 L760.6,791.6 L761.59,791.11 L762.58,790.4 L763.52,789.48 L764.38,788.4 L765.12,787.21 L765.71,785.94 L766.12,784.66 L766.35,783.41 L766.38,782.24 L766.21,781.21 L765.84,780.35 L765.3,779.7 L764.6,779.28" fill="none" stroke-width="1.9" stroke-linejoin="round"/>
<path d="M794.66,774 L795.76,773.23 L796.8,772.2 L797.73,770.98 L798.52,769.63 L799.1,768.21 L799.47,766.79 L799.59,765.45 L799.47,764.26 L799.1,763.26 L798.52,762.52 L797.73,762.07 L796.8,761.93 L795.76,762.11 L794.66,762.6 L786.34,767.4 L785.24,768.18 L784.2,769.21 L783.27,770.43 L782.48,771.78 L781.9,773.2 L781.53,774.62 L781.41,775.95 L781.53,777.15 L781.9,778.15 L782.48,778.89 L783.27,779.34 L784.2,779.48 L785.24,779.3 L786.34,778.8 Z" fill="#fff" stroke-width="2.0" stroke-linejoin="round"/>
<path d="M786.31,776.84 L791.14,773.65 L792.1,773.41 L793.09,772.93 L794.08,772.21 L795.02,771.29 L795.88,770.22 L796.62,769.02 L797.21,767.75 L797.62,766.47 L797.85,765.22 L797.88,764.05 L797.71,763.02 L797.34,762.16 L796.8,761.51 L796.1,761.1" fill="none" stroke-width="1.9" stroke-linejoin="round"/>
<path d="M826.16,755.82 L827.26,755.04 L828.3,754.02 L829.23,752.8 L830.02,751.44 L830.6,750.02 L830.97,748.61 L831.09,747.27 L830.97,746.07 L830.6,745.08 L830.02,744.34 L829.23,743.88 L828.3,743.75 L827.26,743.93 L826.16,744.42 L817.84,749.22 L816.74,750 L815.7,751.02 L814.77,752.24 L813.98,753.59 L813.4,755.01 L813.03,756.43 L812.91,757.77 L813.03,758.97 L813.4,759.96 L813.98,760.7 L814.77,761.15 L815.7,761.29 L816.74,761.11 L817.84,760.62 Z" fill="#fff" stroke-width="2.0" stroke-linejoin="round"/>
<path d="M817.81,758.66 L822.64,755.47 L823.6,755.23 L824.59,754.74 L825.58,754.02 L826.52,753.11 L827.38,752.03 L828.12,750.83 L828.71,749.57 L829.12,748.28 L829.35,747.03 L829.38,745.87 L829.21,744.83 L828.84,743.97 L828.3,743.32 L827.6,742.91" fill="none" stroke-width="1.9" stroke-linejoin="round"/>
<path d="M857.66,737.63 L858.76,736.85 L859.8,735.83 L860.73,734.61 L861.52,733.26 L862.1,731.84 L862.47,730.42 L862.59,729.08 L862.47,727.88 L862.1,726.89 L861.52,726.15 L860.73,725.7 L859.8,725.56 L858.76,725.74 L857.66,726.23 L849.34,731.03 L848.24,731.81 L847.2,732.83 L846.27,734.05 L845.48,735.41 L844.9,736.83 L844.53,738.24 L844.41,739.58 L844.53,740.78 L844.9,741.77 L845.48,742.51 L846.27,742.97 L847.2,743.1 L848.24,742.92 L849.34,742.43 Z" fill="#fff" stroke-width="2.0" stroke-linejoin="round"/>
<path d="M849.31,740.47 L854.14,737.28 L855.1,737.04 L856.09,736.55 L857.08,735.84 L858.02,734.92 L858.88,733.84 L859.62,732.65 L860.21,731.38 L860.62,730.1 L860.85,728.85 L860.88,727.68 L860.71,726.65 L860.34,725.79 L859.8,725.14 L859.1,724.72" fill="none" stroke-width="1.9" stroke-linejoin="round"/>
<line x1="846.05" y1="734.73" x2="855.49" y2="738.48" stroke-width="1.7" />
<path d="M889.16,719.45 L890.26,718.67 L891.3,717.64 L892.23,716.42 L893.02,715.07 L893.6,713.65 L893.97,712.24 L894.09,710.9 L893.97,709.7 L893.6,708.7 L893.02,707.96 L892.23,707.51 L891.3,707.37 L890.26,707.55 L889.16,708.05 L880.84,712.85 L879.74,713.62 L878.7,714.65 L877.77,715.87 L876.98,717.22 L876.4,718.64 L876.03,720.06 L875.91,721.4 L876.03,722.59 L876.4,723.59 L876.98,724.33 L877.77,724.78 L878.7,724.92 L879.74,724.74 L880.84,724.25 Z" fill="#fff" stroke-width="2.0" stroke-linejoin="round"/>
<path d="M880.81,722.29 L885.64,719.09 L886.6,718.85 L887.59,718.37 L888.58,717.65 L889.52,716.73 L890.38,715.66 L891.12,714.46 L891.71,713.19 L892.12,711.91 L892.35,710.66 L892.38,709.49 L892.21,708.46 L891.84,707.6 L891.3,706.95 L890.6,706.54" fill="none" stroke-width="1.9" stroke-linejoin="round"/>
<line x1="875.78" y1="717.02" x2="883.83" y2="721.67" stroke-width="2.4" />
<line x1="879.85" y1="714.67" x2="887.9" y2="719.32" stroke-width="2.6" />
<line x1="884.09" y1="712.22" x2="892.14" y2="716.87" stroke-width="2.6" />
<line x1="889.09" y1="708.65" x2="893.64" y2="710.59" stroke-width="2.4" />
<path d="M889.16,719.45 L890.26,718.67 L891.3,717.64 L892.23,716.42 L893.02,715.07 L893.6,713.65 L893.97,712.24 L894.09,710.9 L893.97,709.7 L893.6,708.7 L893.02,707.96 L892.23,707.51 L891.3,707.37 L890.26,707.55 L889.16,708.05 L880.84,712.85 L879.74,713.62 L878.7,714.65 L877.77,715.87 L876.98,717.22 L876.4,718.64 L876.03,720.06 L875.91,721.4 L876.03,722.59 L876.4,723.59 L876.98,724.33 L877.77,724.78 L878.7,724.92 L879.74,724.74 L880.84,724.25 Z" fill="none" stroke-width="2.6" stroke-linejoin="round"/>
<path d="M920.66,701.26 L921.76,700.48 L922.8,699.46 L923.73,698.24 L924.52,696.88 L925.1,695.46 L925.47,694.05 L925.59,692.71 L925.47,691.51 L925.1,690.52 L924.52,689.78 L923.73,689.33 L922.8,689.19 L921.76,689.37 L920.66,689.86 L912.34,694.66 L911.24,695.44 L910.2,696.46 L909.27,697.68 L908.48,699.03 L907.9,700.45 L907.53,701.87 L907.41,703.21 L907.53,704.41 L907.9,705.4 L908.48,706.14 L909.27,706.59 L910.2,706.73 L911.24,706.55 L912.34,706.06 Z" fill="#fff" stroke-width="2.0" stroke-linejoin="round"/>
<path d="M912.31,704.1 L917.14,700.91 L918.1,700.67 L919.09,700.18 L920.08,699.46 L921.02,698.55 L921.88,697.47 L922.62,696.27 L923.21,695.01 L923.62,693.72 L923.85,692.47 L923.88,691.31 L923.71,690.27 L923.34,689.41 L922.8,688.76 L922.1,688.35" fill="none" stroke-width="1.9" stroke-linejoin="round"/>
<path d="M952.16,683.07 L953.26,682.3 L954.3,681.27 L955.23,680.05 L956.02,678.7 L956.6,677.28 L956.97,675.86 L957.09,674.52 L956.97,673.33 L956.6,672.33 L956.02,671.59 L955.23,671.14 L954.3,671 L953.26,671.18 L952.16,671.67 L943.84,676.47 L942.74,677.25 L941.7,678.27 L940.77,679.49 L939.98,680.85 L939.4,682.27 L939.03,683.68 L938.91,685.02 L939.03,686.22 L939.4,687.21 L939.98,687.95 L940.77,688.41 L941.7,688.54 L942.74,688.36 L943.84,687.87 Z" fill="#fff" stroke-width="2.0" stroke-linejoin="round"/>
<path d="M943.81,685.91 L948.64,682.72 L949.6,682.48 L950.59,681.99 L951.58,681.28 L952.52,680.36 L953.38,679.28 L954.12,678.09 L954.71,676.82 L955.12,675.54 L955.35,674.29 L955.38,673.12 L955.21,672.09 L954.84,671.23 L954.3,670.58 L953.6,670.16" fill="none" stroke-width="1.9" stroke-linejoin="round"/>
<path d="M983.66,664.89 L984.76,664.11 L985.8,663.08 L986.73,661.87 L987.52,660.51 L988.1,659.09 L988.47,657.68 L988.59,656.34 L988.47,655.14 L988.1,654.14 L987.52,653.4 L986.73,652.95 L985.8,652.81 L984.76,652.99 L983.66,653.49 L975.34,658.29 L974.24,659.06 L973.2,660.09 L972.27,661.31 L971.48,662.66 L970.9,664.08 L970.53,665.5 L970.41,666.84 L970.53,668.03 L970.9,669.03 L971.48,669.77 L972.27,670.22 L973.2,670.36 L974.24,670.18 L975.34,669.69 Z" fill="#fff" stroke-width="2.0" stroke-linejoin="round"/>
<path d="M975.31,667.73 L980.14,664.53 L981.1,664.29 L982.09,663.81 L983.08,663.09 L984.02,662.17 L984.88,661.1 L985.62,659.9 L986.21,658.63 L986.62,657.35 L986.85,656.1 L986.88,654.93 L986.71,653.9 L986.34,653.04 L985.8,652.39 L985.1,651.98" fill="none" stroke-width="1.9" stroke-linejoin="round"/>
<path d="M1015.16,646.7 L1016.26,645.92 L1017.3,644.9 L1018.23,643.68 L1019.02,642.32 L1019.6,640.9 L1019.97,639.49 L1020.09,638.15 L1019.97,636.95 L1019.6,635.96 L1019.02,635.22 L1018.23,634.77 L1017.3,634.63 L1016.26,634.81 L1015.16,635.3 L1006.84,640.1 L1005.74,640.88 L1004.7,641.9 L1003.77,643.12 L1002.98,644.47 L1002.4,645.89 L1002.03,647.31 L1001.91,648.65 L1002.03,649.85 L1002.4,650.84 L1002.98,651.58 L1003.77,652.03 L1004.7,652.17 L1005.74,651.99 L1006.84,651.5 Z" fill="#fff" stroke-width="2.0" stroke-linejoin="round"/>
<path d="M1006.81,649.54 L1011.64,646.35 L1012.6,646.11 L1013.59,645.62 L1014.58,644.9 L1015.52,643.99 L1016.38,642.91 L1017.12,641.71 L1017.71,640.45 L1018.12,639.16 L1018.35,637.91 L1018.38,636.75 L1018.21,635.71 L1017.84,634.86 L1017.3,634.21 L1016.6,633.79" fill="none" stroke-width="1.9" stroke-linejoin="round"/>
<path d="M1046.66,628.51 L1047.76,627.74 L1048.8,626.71 L1049.73,625.49 L1050.52,624.14 L1051.1,622.72 L1051.47,621.3 L1051.59,619.96 L1051.47,618.77 L1051.1,617.77 L1050.52,617.03 L1049.73,616.58 L1048.8,616.44 L1047.76,616.62 L1046.66,617.11 L1038.34,621.91 L1037.24,622.69 L1036.2,623.71 L1035.27,624.93 L1034.48,626.29 L1033.9,627.71 L1033.53,629.12 L1033.41,630.46 L1033.53,631.66 L1033.9,632.65 L1034.48,633.39 L1035.27,633.85 L1036.2,633.98 L1037.24,633.8 L1038.34,633.31 Z" fill="#fff" stroke-width="2.0" stroke-linejoin="round"/>
<path d="M1038.31,631.35 L1043.14,628.16 L1044.1,627.92 L1045.09,627.43 L1046.08,626.72 L1047.02,625.8 L1047.88,624.72 L1048.62,623.53 L1049.21,622.26 L1049.62,620.98 L1049.85,619.73 L1049.88,618.56 L1049.71,617.53 L1049.34,616.67 L1048.8,616.02 L1048.1,615.6" fill="none" stroke-width="1.9" stroke-linejoin="round"/>
<path d="M1078.16,610.33 L1079.26,609.55 L1080.3,608.53 L1081.23,607.31 L1082.02,605.95 L1082.6,604.53 L1082.97,603.12 L1083.09,601.78 L1082.97,600.58 L1082.6,599.59 L1082.02,598.84 L1081.23,598.39 L1080.3,598.25 L1079.26,598.43 L1078.16,598.93 L1069.84,603.73 L1068.74,604.5 L1067.7,605.53 L1066.77,606.75 L1065.98,608.1 L1065.4,609.52 L1065.03,610.94 L1064.91,612.28 L1065.03,613.47 L1065.4,614.47 L1065.98,615.21 L1066.77,615.66 L1067.7,615.8 L1068.74,615.62 L1069.84,615.13 Z" fill="#fff" stroke-width="2.0" stroke-linejoin="round"/>
<path d="M1069.81,613.17 L1074.64,609.97 L1075.6,609.74 L1076.59,609.25 L1077.58,608.53 L1078.52,607.61 L1079.38,606.54 L1080.12,605.34 L1080.71,604.07 L1081.12,602.79 L1081.35,601.54 L1081.38,600.37 L1081.21,599.34 L1080.84,598.48 L1080.3,597.83 L1079.6,597.42" fill="none" stroke-width="1.9" stroke-linejoin="round"/>
<path d="M1109.66,592.14 L1110.76,591.36 L1111.8,590.34 L1112.73,589.12 L1113.52,587.77 L1114.1,586.34 L1114.47,584.93 L1114.59,583.59 L1114.47,582.39 L1114.1,581.4 L1113.52,580.66 L1112.73,580.21 L1111.8,580.07 L1110.76,580.25 L1109.66,580.74 L1101.34,585.54 L1100.24,586.32 L1099.2,587.34 L1098.27,588.56 L1097.48,589.91 L1096.9,591.33 L1096.53,592.75 L1096.41,594.09 L1096.53,595.29 L1096.9,596.28 L1097.48,597.02 L1098.27,597.47 L1099.2,597.61 L1100.24,597.43 L1101.34,596.94 Z" fill="#fff" stroke-width="2.0" stroke-linejoin="round"/>
<path d="M1101.31,594.98 L1106.14,591.79 L1107.1,591.55 L1108.09,591.06 L1109.08,590.34 L1110.02,589.43 L1110.88,588.35 L1111.62,587.15 L1112.21,585.89 L1112.62,584.6 L1112.85,583.35 L1112.88,582.19 L1112.71,581.15 L1112.34,580.3 L1111.8,579.65 L1111.1,579.23" fill="none" stroke-width="1.9" stroke-linejoin="round"/>
<path d="M353.6,965.6 L351.9,966.3 L351.4,968 L351.4,977.9 L355.2,977.9 L354.8,968.6" fill="none" stroke-width="1.8" stroke-linejoin="round"/>
<path d="M352.5,966 L364.4,971.6" fill="none" stroke-width="2.4" />
<path d="M355.8,970.4 L361.7,973.6 L355.8,976.4" fill="none" stroke-width="1.5" />
<path d="M364.3,971.4 L364.3,1026.5" fill="none" stroke-width="3.0" />
<path d="M364.3,1026 L362.6,1029 C360,1030.5 359.4,1034 360,1037 C360.6,1040.5 362,1043 364,1044.8 L364.4,1057.4" fill="none" stroke-width="2.2"/>
<line x1="362.8" y1="1031.8" x2="362.8" y2="1038.3" stroke-width="1.0" />
<path d="M441,124 L418.3,124 Q412.8,124 412.8,129.5 L412.8,176.9 Q412.8,182.4 418.3,182.4 L508,182.4 Q513.5,182.4 513.5,176.9 L513.5,129.5 Q513.5,124 508,124 L485.5,124" fill="none" stroke-width="9" stroke-linejoin="round"/>
<line x1="463.2" y1="125" x2="463.2" y2="155" stroke-width="1.2" />
<line x1="463.2" y1="98.5" x2="463.2" y2="100" stroke-width="1.4" />
<line x1="333" y1="41.5" x2="593" y2="41.5" stroke-width="1.7" />
<line x1="439.4" y1="20" x2="439.4" y2="100.5" stroke-width="1.7" />
<line x1="486.8" y1="20" x2="486.8" y2="100.5" stroke-width="1.7" />
<path d="M439.4,41.5 L375.4,50 L375.4,33 Z" fill="#000" stroke="none"/>
<path d="M486.8,41.5 L550.8,33 L550.8,50 Z" fill="#000" stroke="none"/>
<text x="460.7" y="31.3" font-size="45.5" text-anchor="middle" >11</text>
<line x1="628.8" y1="15" x2="628.8" y2="120.3" stroke-width="1.7" />
<line x1="628.8" y1="185.4" x2="628.8" y2="291.5" stroke-width="1.7" />
<path d="M628.8,120.5 L619.8,56.5 L637.8,56.5 Z" fill="#000" stroke="none"/>
<path d="M628.8,185.2 L637.8,249.2 L619.8,249.2 Z" fill="#000" stroke="none"/>
<line x1="526" y1="120.8" x2="649.7" y2="120.8" stroke-width="1.7" />
<line x1="526" y1="185.4" x2="649.7" y2="185.4" stroke-width="1.7" />
<text x="629" y="167.6" font-size="45.5" text-anchor="middle" >15</text>
<line x1="303.5" y1="297.8" x2="623.2" y2="297.8" stroke-width="1.7" />
<line x1="409.8" y1="206" x2="409.8" y2="319.7" stroke-width="1.7" />
<line x1="516.5" y1="195" x2="516.5" y2="319.7" stroke-width="1.7" />
<path d="M409.8,297.8 L345.8,306.3 L345.8,289.3 Z" fill="#000" stroke="none"/>
<path d="M516.5,297.8 L580.5,289.3 L580.5,306.3 Z" fill="#000" stroke="none"/>
<text x="462.3" y="285.7" font-size="45.5" text-anchor="middle" >25</text>
<line x1="160" y1="85.2" x2="298.6" y2="85.2" stroke-width="1.7" />
<line x1="298.6" y1="85.2" x2="298.6" y2="178" stroke-width="1.7" />
<line x1="298.6" y1="187" x2="298.6" y2="291.3" stroke-width="1.7" />
<path d="M298.6,178.6 L290.1,114.6 L307.1,114.6 Z" fill="#000" stroke="none"/>
<path d="M298.6,186.4 L307.1,250.4 L290.1,250.4 Z" fill="#000" stroke="none"/>
<line x1="277" y1="179.8" x2="400" y2="179.8" stroke-width="1.7" />
<line x1="277" y1="185" x2="400" y2="185" stroke-width="1.7" />
<text x="185.3" y="74.6" font-size="45.5" text-anchor="start" >1,25</text>
<line x1="36.2" y1="650.7" x2="191.2" y2="738.1" stroke-width="1.7" />
<path d="M113,694 L61.98,675.56 L70.82,659.89 Z" fill="#000" stroke="none"/>
<path d="M114.2,694.7 L165.66,713.37 L156.82,729.06 Z" fill="#000" stroke="none"/>
<line x1="113.7" y1="677" x2="113.7" y2="815.3" stroke-width="3.3" />
<text x="-0.5" y="645.6" font-size="45.5" text-anchor="start" >t</text>
<line x1="19" y1="686" x2="19" y2="772" stroke-width="1.7" />
<line x1="19" y1="861" x2="19" y2="946.7" stroke-width="1.7" />
<path d="M19,772.5 L9.75,719.5 L28.25,719.5 Z" fill="#000" stroke="none"/>
<path d="M19,860.4 L28.25,913.4 L9.75,913.4 Z" fill="#000" stroke="none"/>
<line x1="4.4" y1="764.3" x2="102.5" y2="820.9" stroke-width="1.7" />
<line x1="4.4" y1="851.8" x2="102.5" y2="908.4" stroke-width="1.7" />
<text x="2" y="830.6" font-size="45.5" text-anchor="start" >H</text>
<line x1="99.2" y1="919.1" x2="16.5" y2="965.9" stroke-width="1.7" />
<line x1="33.5" y1="956.8" x2="117.8" y2="1006.2" stroke-width="1.7" />
<path d="M33.5,956.8 L82.48,975.07 L73.38,990.6 Z" fill="#000" stroke="none"/>
<text x="143.5" y="1043.9" font-size="45.5" text-anchor="start" >B</text>
<line x1="198.8" y1="1053" x2="283.9" y2="1102.2" stroke-width="1.7" />
<path d="M283.9,1102.2 L234.81,1084.22 L243.82,1068.63 Z" fill="#000" stroke="none"/>
<line x1="269.3" y1="1111.1" x2="350.4" y2="1063.7" stroke-width="1.7" />
<line x1="376.3" y1="1067.3" x2="612" y2="1203.4" stroke-width="1.7" />
<line x1="600" y1="1197.3" x2="700.8" y2="1138.9" stroke-width="1.7" />
<path d="M602.7,1195.7 L642.76,1162.11 L651.78,1177.68 Z" fill="#000" stroke="none"/>
<line x1="776.9" y1="1094.4" x2="1112" y2="901" stroke-width="1.7" />
<text x="725.7" y="1132" font-size="45.5" text-anchor="start" >L</text>
<line x1="511.6" y1="960.3" x2="681.8" y2="1058.5" stroke-width="1.7" />
<line x1="890.1" y1="742.4" x2="1059.6" y2="840.3" stroke-width="1.7" />
<line x1="671.4" y1="1051.8" x2="816.3" y2="968.9" stroke-width="1.7" />
<path d="M671.4,1051.8 L711.63,1018.41 L720.57,1034.04 Z" fill="#000" stroke="none"/>
<line x1="904.7" y1="917.8" x2="1048.1" y2="835" stroke-width="1.7" />
<path d="M1048.1,835 L1008,868.55 L999,852.96 Z" fill="#000" stroke="none"/>
<text x="860.3" y="959" font-size="45.5" text-anchor="middle" >300</text>
<line x1="727" y1="830.5" x2="727" y2="936.5" stroke-width="1.7" />
<line x1="758.7" y1="812.2" x2="758.7" y2="917.2" stroke-width="1.7" />
<line x1="651.4" y1="961.3" x2="727" y2="918.2" stroke-width="1.7" />
<path d="M727,918.2 L686.72,951.53 L677.8,935.89 Z" fill="#000" stroke="none"/>
<line x1="758.7" y1="899.6" x2="825.7" y2="861.7" stroke-width="1.7" />
<path d="M758.7,899.6 L799.09,866.41 L807.96,882.08 Z" fill="#000" stroke="none"/>
<text x="868.4" y="852" font-size="45.5" text-anchor="middle" >25</text>
<line x1="384.5" y1="591" x2="384.5" y2="760.6" stroke-width="1.7" />
<line x1="510.2" y1="518.6" x2="510.2" y2="685.1" stroke-width="1.7" />
<line x1="308.9" y1="652.3" x2="384.5" y2="609.4" stroke-width="1.7" />
<path d="M384.5,609.4 L344.15,642.64 L335.27,626.99 Z" fill="#000" stroke="none"/>
<line x1="510.2" y1="535.2" x2="585.7" y2="492.8" stroke-width="1.7" />
<path d="M510.2,535.2 L550.7,502.14 L559.51,517.83 Z" fill="#000" stroke="none"/>
<text x="449" y="586.7" font-size="45.5" text-anchor="middle" >100</text>
<line x1="733.8" y1="394" x2="733.8" y2="560.2" stroke-width="1.7" />
<line x1="796.9" y1="357.6" x2="796.9" y2="525.2" stroke-width="1.7" />
<line x1="658.4" y1="454.3" x2="733.8" y2="411.3" stroke-width="1.7" />
<path d="M733.8,411.3 L693.52,444.63 L684.61,428.99 Z" fill="#000" stroke="none"/>
<line x1="796.9" y1="374.8" x2="872.2" y2="331.6" stroke-width="1.7" />
<path d="M796.9,374.8 L837.09,341.37 L846.05,356.98 Z" fill="#000" stroke="none"/>
<text x="765.5" y="407.5" font-size="45.5" text-anchor="middle" >50</text>
<line x1="798.7" y1="543.3" x2="816.2" y2="564.4" stroke-width="1.7" />
<circle cx="852.2" cy="585.1" r="14" fill="none" stroke-width="1.5"/>
<line x1="843.6" y1="605.5" x2="860" y2="565.1" stroke-width="1.5" />
<text x="874" y="600.2" font-size="45.5" text-anchor="start" >5,4</text>
<line x1="388" y1="782.2" x2="399.2" y2="800.8" stroke-width="1.5" />
<circle cx="435" cy="820.1" r="14" fill="none" stroke-width="1.5"/>
<line x1="426.4" y1="840.5" x2="442.8" y2="800.1" stroke-width="1.5" />
<text x="458" y="834.8" font-size="45.5" text-anchor="start" >8,5</text>
<line x1="412.3" y1="995.5" x2="443" y2="1039.5" stroke-width="1.7" />
<text x="452" y="1075" font-size="45.5" text-anchor="start" >9x15</text>
</svg>
</body></html>
